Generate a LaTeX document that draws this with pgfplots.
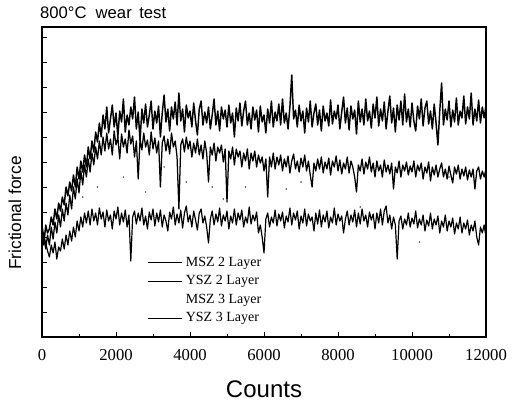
\documentclass[border=0pt]{standalone}
\usepackage{fontspec}
\setmainfont{Liberation Sans}
\newfontfamily\serif{Liberation Serif}
\usepackage{pgfplots}
\usepackage{pgfplotstable}
\pgfplotsset{compat=1.18}

% YSZ 3 Layer (top trace)
\pgfplotstableread[row sep=\\]{
x y\\
0 100\\50 92\\100 112\\150 104\\200 108\\250 120\\300 112\\350 128\\400 118\\450 134\\500 126\\550 140\\600 132\\650 150\\700 141\\750 155\\800 146\\850 162\\900 150\\950 170\\
1000 158\\1050 176\\1100 165\\1150 182\\1200 170\\1250 190\\1300 178\\1350 196\\1400 185\\1450 205\\1500 195\\1550 214\\1600 200\\1650 222\\1700 208\\1750 230\\1800 204\\1850 218\\1900 232\\1950 210\\
2000 224\\2050 200\\2100 226\\2150 215\\2200 238\\2250 205\\2300 222\\2350 212\\2400 230\\2450 218\\2500 240\\2550 208\\2600 225\\2650 196\\2700 228\\2750 214\\2800 233\\2850 210\\2900 222\\2950 236\\
3000 208\\3050 226\\3100 214\\3150 231\\3200 200\\3250 224\\3300 242\\3350 215\\3400 228\\3450 206\\3500 230\\3550 218\\3600 235\\3650 212\\3700 244\\3750 216\\3800 228\\3850 205\\3900 232\\3950 219\\
4000 226\\4050 210\\4100 234\\4150 216\\4200 202\\4250 228\\4300 236\\4350 212\\4400 225\\4450 214\\4500 230\\4550 208\\4600 222\\4650 238\\4700 212\\4750 226\\4800 206\\4850 230\\4900 218\\4950 227\\
5000 210\\5050 232\\5100 214\\5150 224\\5200 200\\5250 229\\5300 216\\5350 234\\5400 211\\5450 226\\5500 236\\5550 212\\5600 224\\5650 208\\5700 230\\5750 217\\5800 227\\5850 205\\5900 231\\5950 215\\
6000 222\\6050 204\\6100 228\\6150 214\\6200 236\\6250 210\\6300 225\\6350 216\\6400 233\\6450 212\\6500 238\\6550 214\\6600 224\\6650 208\\6700 230\\6750 262\\6800 218\\6850 227\\6900 210\\6950 232\\
7000 216\\7050 226\\7100 204\\7150 229\\7200 215\\7250 236\\7300 210\\7350 224\\7400 233\\7450 212\\7500 227\\7550 206\\7600 231\\7650 216\\7700 224\\7750 211\\7800 237\\7850 213\\7900 226\\7950 218\\
8000 232\\8050 208\\8100 225\\8150 240\\8200 214\\8250 229\\8300 207\\8350 231\\8400 218\\8450 227\\8500 203\\8550 236\\8600 215\\8650 228\\8700 212\\8750 238\\8800 216\\8850 226\\8900 209\\8950 233\\
9000 219\\9050 240\\9100 211\\9150 228\\9200 216\\9250 235\\9300 208\\9350 226\\9400 241\\9450 214\\9500 229\\9550 205\\9600 232\\9650 217\\9700 236\\9750 212\\9800 243\\9850 215\\9900 228\\9950 210\\
10000 234\\10050 216\\10100 206\\10150 231\\10200 218\\10250 238\\10300 211\\10350 229\\10400 236\\10450 213\\10500 226\\10550 208\\10600 233\\10650 214\\10700 192\\10750 226\\10800 254\\10850 212\\10900 228\\10950 217\\
11000 236\\11050 210\\11100 227\\11150 215\\11200 239\\11250 212\\11300 226\\11350 219\\11400 241\\11450 213\\11500 230\\11550 218\\11600 244\\11650 212\\11700 228\\11750 216\\11800 237\\11850 214\\11900 230\\11950 219\\
12000 232\\
}\serA

% YSZ 2 Layer (middle trace)
\pgfplotstableread[row sep=\\]{
x y\\
0 95\\50 104\\100 88\\150 102\\200 92\\250 110\\300 98\\350 115\\400 104\\450 122\\500 110\\550 128\\600 116\\650 134\\700 122\\750 142\\800 128\\850 150\\900 138\\950 158\\
1000 144\\1050 166\\1100 152\\1150 172\\1200 160\\1250 178\\1300 165\\1350 184\\1400 172\\1450 190\\1500 178\\1550 196\\1600 182\\1650 200\\1700 186\\1750 204\\1800 188\\1850 198\\1900 182\\1950 206\\
2000 192\\2050 200\\2100 178\\2150 203\\2200 190\\2250 198\\2300 184\\2350 207\\2400 193\\2450 201\\2500 180\\2550 196\\2600 158\\2650 198\\2700 187\\2750 204\\2800 190\\2850 197\\2900 182\\2950 205\\
3000 188\\3050 199\\3100 184\\3150 196\\3200 150\\3250 194\\3300 201\\3350 186\\3400 198\\3450 183\\3500 204\\3550 190\\3600 196\\3650 180\\3700 128\\3750 192\\3800 198\\3850 185\\3900 200\\3950 188\\
4000 196\\4050 180\\4100 194\\4150 184\\4200 198\\4250 182\\4300 192\\4350 178\\4400 196\\4450 184\\4500 155\\4550 190\\4600 182\\4650 194\\4700 176\\4750 190\\4800 184\\4850 192\\4900 175\\4950 188\\
5000 135\\5050 186\\5100 178\\5150 190\\5200 172\\5250 188\\5300 180\\5350 186\\5400 170\\5450 184\\5500 176\\5550 188\\5600 168\\5650 184\\5700 176\\5750 186\\5800 170\\5850 182\\5900 174\\5950 180\\
6000 166\\6050 178\\6100 140\\6150 180\\6200 170\\6250 184\\6300 168\\6350 180\\6400 172\\6450 182\\6500 166\\6550 178\\6600 170\\6650 181\\6700 164\\6750 176\\6800 183\\6850 168\\6900 176\\6950 165\\
7000 179\\7050 170\\7100 182\\7150 166\\7200 176\\7250 162\\7300 150\\7350 174\\7400 166\\7450 178\\7500 168\\7550 180\\7600 164\\7650 175\\7700 168\\7750 179\\7800 162\\7850 176\\7900 170\\7950 181\\
8000 166\\8050 177\\8100 163\\8150 174\\8200 168\\8250 180\\8300 164\\8350 176\\8400 170\\8450 160\\8500 145\\8550 172\\8600 166\\8650 178\\8700 163\\8750 175\\8800 168\\8850 180\\8900 165\\8950 174\\
9000 160\\9050 176\\9100 166\\9150 172\\9200 160\\9250 177\\9300 165\\9350 172\\9400 163\\9450 174\\9500 148\\9550 170\\9600 164\\9650 176\\9700 160\\9750 172\\9800 166\\9850 175\\9900 162\\9950 171\\
10000 165\\10050 176\\10100 160\\10150 172\\10200 166\\10250 174\\10300 158\\10350 170\\10400 164\\10450 175\\10500 156\\10550 170\\10600 162\\10650 172\\10700 160\\10750 168\\10800 174\\10850 160\\10900 168\\10950 158\\
11000 171\\11050 162\\11100 154\\11150 170\\11200 163\\11250 172\\11300 158\\11350 168\\11400 161\\11450 170\\11500 157\\11550 167\\11600 160\\11650 168\\11700 148\\11750 166\\11800 170\\11850 158\\11900 166\\11950 160\\
12000 168\\
}\serB

% MSZ 2 Layer (lower trace)
\pgfplotstableread[row sep=\\]{
x y\\
0 112\\50 100\\100 94\\150 86\\200 80\\250 92\\300 84\\350 95\\400 78\\450 90\\500 86\\550 98\\600 88\\650 102\\700 92\\750 106\\800 96\\850 110\\900 100\\950 116\\
1000 106\\1050 120\\1100 110\\1150 124\\1200 114\\1250 126\\1300 112\\1350 128\\1400 116\\1450 124\\1500 112\\1550 129\\1600 118\\1650 125\\1700 110\\1750 127\\1800 116\\1850 122\\1900 108\\1950 126\\
2000 118\\2050 130\\2100 112\\2150 124\\2200 115\\2250 127\\2300 110\\2350 122\\2400 76\\2450 120\\2500 126\\2550 113\\2600 124\\2650 116\\2700 129\\2750 112\\2800 121\\2850 108\\2900 125\\2950 117\\
3000 128\\3050 111\\3100 124\\3150 115\\3200 127\\3250 110\\3300 122\\3350 116\\3400 106\\3450 125\\3500 118\\3550 130\\3600 112\\3650 123\\3700 114\\3750 127\\3800 109\\3850 124\\3900 131\\3950 115\\
4000 122\\4050 110\\4100 126\\4150 117\\4200 107\\4250 124\\4300 128\\4350 114\\4400 121\\4450 110\\4500 94\\4550 118\\4600 126\\4650 112\\4700 123\\4750 115\\4800 129\\4850 111\\4900 122\\4950 116\\
5000 126\\5050 108\\5100 121\\5150 114\\5200 128\\5250 112\\5300 124\\5350 117\\5400 127\\5450 110\\5500 120\\5550 114\\5600 130\\5650 113\\5700 122\\5750 116\\5800 125\\5850 104\\5900 112\\5950 100\\
6000 84\\6050 118\\6100 124\\6150 110\\6200 120\\6250 114\\6300 127\\6350 111\\6400 123\\6450 116\\6500 125\\6550 109\\6600 121\\6650 115\\6700 129\\6750 112\\6800 124\\6850 117\\6900 126\\6950 108\\
7000 121\\7050 114\\7100 128\\7150 111\\7200 123\\7250 116\\7300 120\\7350 106\\7400 124\\7450 113\\7500 127\\7550 110\\7600 122\\7650 115\\7700 126\\7750 109\\7800 120\\7850 114\\7900 129\\7950 112\\
8000 123\\8050 116\\8100 121\\8150 104\\8200 118\\8250 126\\8300 112\\8350 122\\8400 115\\8450 127\\8500 110\\8550 124\\8600 113\\8650 128\\8700 116\\8750 122\\8800 110\\8850 125\\8900 117\\8950 123\\
9000 108\\9050 124\\9100 114\\9150 128\\9200 112\\9250 126\\9300 131\\9350 114\\9400 122\\9450 108\\9500 120\\9550 112\\9600 78\\9650 116\\9700 121\\9750 108\\9800 118\\9850 112\\9900 124\\9950 110\\
10000 119\\10050 113\\10100 126\\10150 109\\10200 118\\10250 112\\10300 122\\10350 106\\10400 117\\10450 111\\10500 124\\10550 108\\10600 118\\10650 112\\10700 121\\10750 104\\10800 116\\10850 110\\10900 122\\10950 106\\
11000 116\\11050 110\\11100 119\\11150 103\\11200 114\\11250 108\\11300 120\\11350 104\\11400 114\\11450 108\\11500 117\\11550 102\\11600 112\\11650 106\\11700 116\\11750 100\\11800 92\\11850 110\\11900 104\\11950 112\\
12000 100\\
}\serC

% MSZ 3 Layer (faint, only scattered dots visible)
\pgfplotstableread[row sep=\\]{
x y\\
1100 140\\1500 150\\2200 160\\2800 145\\3300 170\\3900 155\\4600 150\\4900 138\\5500 150\\6600 148\\7000 155\\8600 130\\10200 95\\11000 160\\
}\serD

\begin{document}
\begin{tikzpicture}
\begin{axis}[
  name=ax,
  scale only axis,
  width=333pt, height=232.5pt,
  xmin=0, xmax=12000, ymin=0, ymax=310,
  axis line style={line width=0.9pt},
  xtick={0,2000,...,12000},
  minor xtick={1000,3000,...,11000},
  ytick={25,50,...,300},
  yticklabels={},
  xtick pos=bottom, ytick pos=left,
  tick align=inside,
  major tick length=4pt, minor tick length=2.5pt,
  tick style={black, line width=0.6pt},
  ytick style={line width=0.4pt},
  scaled x ticks=false,
  /pgf/number format/1000 sep={},
  /pgf/number format/assume math mode=true,
  xticklabel style={font=\serif\fontsize{12.5}{13}\selectfont, yshift=-6pt},
  every axis title shift=0pt,
  title={800°C\hspace{0.55em}wear\hspace{0.45em}test},
  title style={at={(axis description cs:-0.005,1.047)}, anchor=west, font=\fontsize{12.5}{14}\selectfont, inner sep=0pt},
  xlabel={Counts},
  xlabel style={at={(axis description cs:0.5,-0.168)}, anchor=center, font=\fontsize{18}{20}\selectfont, inner sep=0pt},
  ylabel={Frictional force},
  ylabel style={at={(axis description cs:-0.061,0.40)}, anchor=center, font=\fontsize{13}{15}\selectfont, inner sep=0pt},
  legend style={at={(axis description cs:0.236,0.268)}, anchor=north west, draw=none, fill=none,
    font=\serif\fontsize{10.5}{12}\selectfont, row sep=1.5pt, inner sep=0pt},
  legend cell align=left,
  legend image code/.code={\draw[#1] (0pt,0pt) -- (26pt,0pt);},
]
\addplot[black, line width=0.9pt, line join=round, forget plot] table[x=x,y=y] {\serC};
\addplot[black, line width=0.95pt, line join=round, forget plot] table[x=x,y=y] {\serB};
\addplot[only marks, mark=*, mark size=0.35pt, black!70, forget plot] table[x=x,y=y] {\serD};
\addplot[black, line width=1.1pt, line join=round, forget plot] table[x=x,y=y] {\serA};
\addlegendimage{black, line width=0.5pt}
\addlegendentry{MSZ 2 Layer}
\addlegendimage{black, line width=0.6pt}
\addlegendentry{YSZ 2 Layer}
\addlegendimage{empty legend}
\addlegendentry{MSZ 3 Layer}
\addlegendimage{black, line width=1.1pt}
\addlegendentry{YSZ 3 Layer}
\end{axis}
\pgfresetboundingbox
\path[use as bounding box] ([shift={(-31.5pt,-50.25pt)}]ax.south west) rectangle ([shift={(30.75pt,20.25pt)}]ax.north east);
\end{tikzpicture}
\end{document}
